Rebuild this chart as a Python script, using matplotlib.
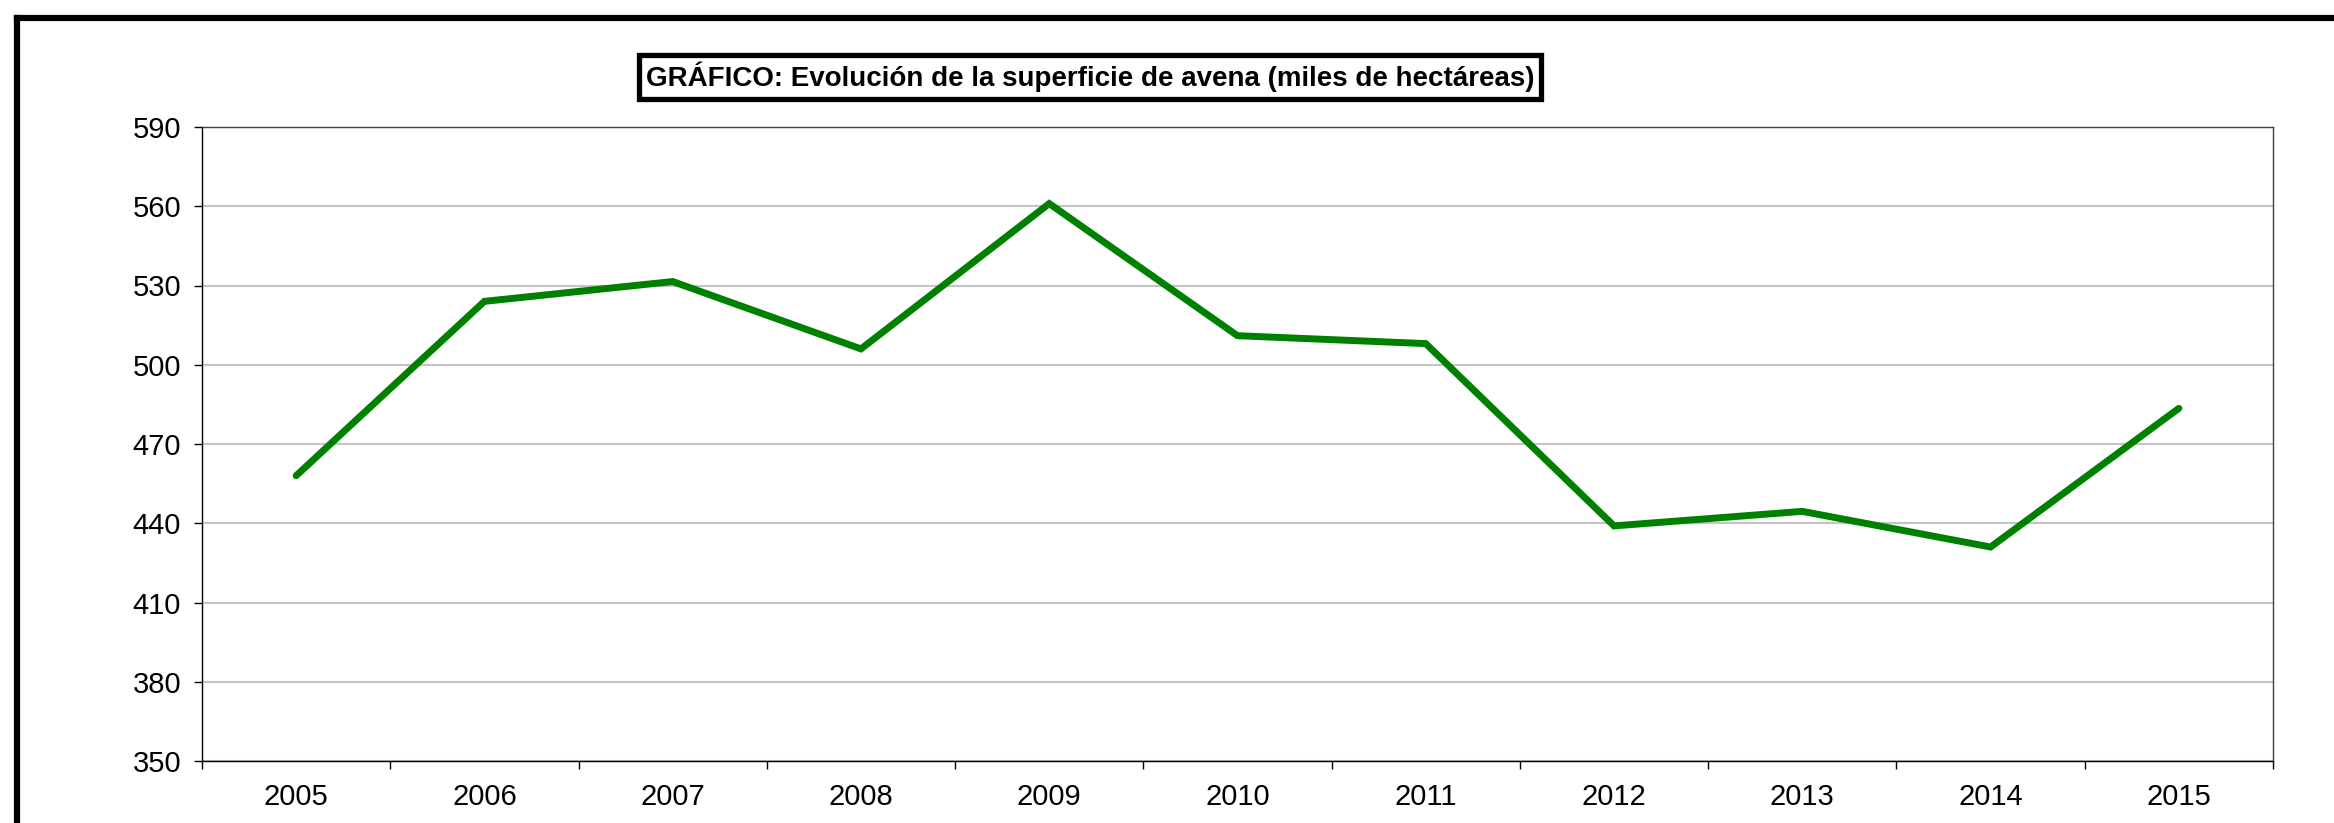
import matplotlib
matplotlib.use("Agg")
import matplotlib.pyplot as plt
from matplotlib.lines import Line2D
from matplotlib.ticker import FixedLocator, NullFormatter

plt.rcParams['font.family'] = ['Liberation Sans', 'DejaVu Sans']

# data
years = ['2005', '2006', '2007', '2008', '2009', '2010', '2011', '2012', '2013', '2014', '2015']
superficie = [458, 524, 531.5, 506, 561, 511, 508, 439, 444.5, 431, 483.5]
y_ticks = [350, 380, 410, 440, 470, 500, 530, 560, 590]
titulo = "GRÁFICO: Evolución de la superficie de avena (miles de hectáreas)"

W, H = 2334, 823
fig = plt.figure(figsize=(W / 100, H / 100), dpi=100)
ax = fig.add_axes([202 / W, 1 - 761 / H, (2273 - 202) / W, (761 - 127) / H])

x = list(range(len(years)))
ax.plot(x, superficie, color='#008000', linewidth=5.0,
        solid_capstyle='round', solid_joinstyle='miter', zorder=3)

# y axis
ax.set_ylim(y_ticks[0], y_ticks[-1])
ax.set_yticks(y_ticks)
ax.yaxis.grid(True, color='#c4c4c4', linewidth=1.5)
ax.tick_params(axis='y', direction='out', length=6, width=1, pad=9, labelsize=21)

# x axis: ticks between categories, labels centred
ax.set_xlim(-0.5, len(years) - 0.5)
ax.xaxis.set_major_locator(FixedLocator([i - 0.5 for i in range(len(years) + 1)]))
ax.xaxis.set_major_formatter(NullFormatter())
ax.set_xticks(x, minor=True)
ax.set_xticklabels(years, minor=True)
ax.tick_params(axis='x', which='major', direction='out', length=6, width=1)
ax.tick_params(axis='x', which='minor', length=0, pad=16, labelsize=21)

for s in ax.spines.values():
    s.set_color('#000000')
    s.set_linewidth(1.0)
ax.spines['top'].set_color('#404040')
ax.spines['right'].set_color('#404040')

# title in a framed box
fig.text(1090 / W, 1 - 77 / H, titulo, ha='center', va='center',
         fontsize=20, fontweight='bold',
         bbox=dict(boxstyle='square,pad=0.25', facecolor='white',
                   edgecolor='black', linewidth=3.8))

# outer chart frame (cut off on the right and bottom)
fig.add_artist(Line2D([17 / W, 1.0], [1 - 17.5 / H, 1 - 17.5 / H],
                      transform=fig.transFigure, color='black', linewidth=4.5))
fig.add_artist(Line2D([17 / W, 17 / W], [1 - 17.5 / H, 0.0],
                      transform=fig.transFigure, color='black', linewidth=4.5))

fig.savefig("out.png", dpi=100)
